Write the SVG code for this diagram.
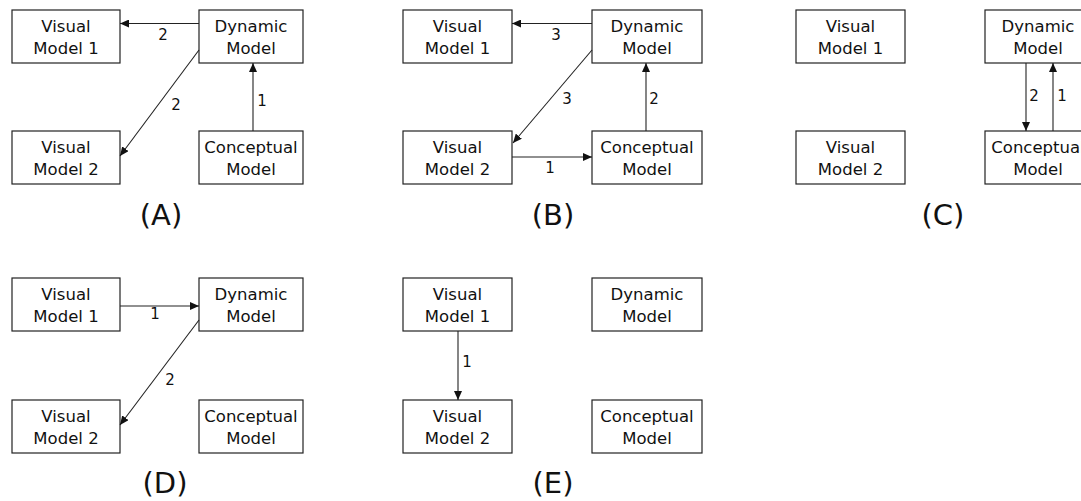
<svg xmlns="http://www.w3.org/2000/svg" width="1081" height="501" viewBox="0 0 1081 501">
  <style>
    .box { fill: #ffffff; stroke: #222222; stroke-width: 1.2; }
    .txt { font-family: "DejaVu Sans", "Liberation Sans", sans-serif; font-size: 16.5px; fill: #111111; text-anchor: middle; }
    .lbl { font-family: "DejaVu Sans", "Liberation Sans", sans-serif; font-size: 15px; fill: #111111; text-anchor: middle; }
    .cap { font-family: "DejaVu Sans", "Liberation Sans", sans-serif; font-size: 29px; fill: #111111; text-anchor: middle; }
    .edge { fill: none; stroke: #222222; stroke-width: 1.1; marker-end: url(#arrow); }
  </style>
  <defs>
    <marker id="arrow" markerUnits="userSpaceOnUse" markerWidth="9" markerHeight="8" refX="9" refY="4" orient="auto">
      <path d="M0,0 L9,4 L0,8 z" fill="#111111"/>
    </marker>
  </defs>
  <rect width="1081" height="501" fill="#ffffff"/>

  <!-- Panel A -->
  <g id="a-visual1"><rect class="box" x="12" y="10" width="108" height="53"/><text class="txt" x="66" y="32">Visual</text><text class="txt" x="66" y="54">Model 1</text></g>
  <g id="a-dynamic"><rect class="box" x="199" y="10" width="104" height="53"/><text class="txt" x="251" y="32">Dynamic</text><text class="txt" x="251" y="54">Model</text></g>
  <g id="a-visual2"><rect class="box" x="12" y="131" width="108" height="53"/><text class="txt" x="66" y="153">Visual</text><text class="txt" x="66" y="175">Model 2</text></g>
  <g id="a-conceptual"><rect class="box" x="199" y="131" width="104" height="53"/><text class="txt" x="251" y="153">Conceptual</text><text class="txt" x="251" y="175">Model</text></g>
  <text class="cap" x="161" y="225">(A)</text>

  <!-- Panel B -->
  <g id="b-visual1"><rect class="box" x="403" y="10" width="109" height="53"/><text class="txt" x="457.5" y="32">Visual</text><text class="txt" x="457.5" y="54">Model 1</text></g>
  <g id="b-dynamic"><rect class="box" x="592" y="10" width="110" height="53"/><text class="txt" x="647" y="32">Dynamic</text><text class="txt" x="647" y="54">Model</text></g>
  <g id="b-visual2"><rect class="box" x="403" y="131" width="109" height="53"/><text class="txt" x="457.5" y="153">Visual</text><text class="txt" x="457.5" y="175">Model 2</text></g>
  <g id="b-conceptual"><rect class="box" x="592" y="131" width="110" height="53"/><text class="txt" x="647" y="153">Conceptual</text><text class="txt" x="647" y="175">Model</text></g>
  <text class="cap" x="553" y="225">(B)</text>

  <!-- Panel C -->
  <g id="c-visual1"><rect class="box" x="796" y="10" width="109" height="53"/><text class="txt" x="850.5" y="32">Visual</text><text class="txt" x="850.5" y="54">Model 1</text></g>
  <g id="c-dynamic"><rect class="box" x="985" y="10" width="106" height="53"/><text class="txt" x="1038" y="32">Dynamic</text><text class="txt" x="1038" y="54">Model</text></g>
  <g id="c-visual2"><rect class="box" x="796" y="131" width="109" height="53"/><text class="txt" x="850.5" y="153">Visual</text><text class="txt" x="850.5" y="175">Model 2</text></g>
  <g id="c-conceptual"><rect class="box" x="985" y="131" width="106" height="53"/><text class="txt" x="1038" y="153">Conceptual</text><text class="txt" x="1038" y="175">Model</text></g>
  <text class="cap" x="943" y="225">(C)</text>

  <!-- Panel D -->
  <g id="d-visual1"><rect class="box" x="12" y="278" width="108" height="53"/><text class="txt" x="66" y="300">Visual</text><text class="txt" x="66" y="322">Model 1</text></g>
  <g id="d-dynamic"><rect class="box" x="199" y="278" width="104" height="53"/><text class="txt" x="251" y="300">Dynamic</text><text class="txt" x="251" y="322">Model</text></g>
  <g id="d-visual2"><rect class="box" x="12" y="400" width="108" height="53"/><text class="txt" x="66" y="422">Visual</text><text class="txt" x="66" y="444">Model 2</text></g>
  <g id="d-conceptual"><rect class="box" x="199" y="400" width="104" height="53"/><text class="txt" x="251" y="422">Conceptual</text><text class="txt" x="251" y="444">Model</text></g>
  <text class="cap" x="165" y="493">(D)</text>

  <!-- Panel E -->
  <g id="e-visual1"><rect class="box" x="403" y="278" width="109" height="53"/><text class="txt" x="457.5" y="300">Visual</text><text class="txt" x="457.5" y="322">Model 1</text></g>
  <g id="e-dynamic"><rect class="box" x="592" y="278" width="110" height="53"/><text class="txt" x="647" y="300">Dynamic</text><text class="txt" x="647" y="322">Model</text></g>
  <g id="e-visual2"><rect class="box" x="403" y="400" width="109" height="53"/><text class="txt" x="457.5" y="422">Visual</text><text class="txt" x="457.5" y="444">Model 2</text></g>
  <g id="e-conceptual"><rect class="box" x="592" y="400" width="110" height="53"/><text class="txt" x="647" y="422">Conceptual</text><text class="txt" x="647" y="444">Model</text></g>
  <text class="cap" x="553" y="493">(E)</text>

  <!-- Connectors with their step numbers -->
  <g id="connectors">
    <!-- A -->
    <line class="edge" x1="199" y1="23.5" x2="120" y2="23.5"/>
    <text class="lbl" x="163" y="40">2</text>
    <line class="edge" x1="199" y1="50" x2="120" y2="156"/>
    <text class="lbl" x="176" y="110">2</text>
    <line class="edge" x1="253" y1="131" x2="253" y2="63"/>
    <text class="lbl" x="262" y="106">1</text>
    <!-- B -->
    <line class="edge" x1="592" y1="23.5" x2="512" y2="23.5"/>
    <text class="lbl" x="556" y="40">3</text>
    <line class="edge" x1="592" y1="50" x2="513" y2="143"/>
    <text class="lbl" x="567" y="104">3</text>
    <line class="edge" x1="646" y1="131" x2="646" y2="63"/>
    <text class="lbl" x="654" y="104">2</text>
    <line class="edge" x1="512" y1="157" x2="592" y2="157"/>
    <text class="lbl" x="550" y="173">1</text>
    <!-- C -->
    <line class="edge" x1="1026" y1="63" x2="1026" y2="131"/>
    <text class="lbl" x="1034" y="101">2</text>
    <line class="edge" x1="1053" y1="131" x2="1053" y2="63"/>
    <text class="lbl" x="1062" y="101">1</text>
    <!-- D -->
    <line class="edge" x1="120" y1="306" x2="199" y2="306"/>
    <text class="lbl" x="155" y="319">1</text>
    <line class="edge" x1="199" y1="320" x2="120" y2="425"/>
    <text class="lbl" x="170" y="385">2</text>
    <!-- E -->
    <line class="edge" x1="458" y1="331" x2="458" y2="400"/>
    <text class="lbl" x="467" y="367">1</text>
  </g>
</svg>
